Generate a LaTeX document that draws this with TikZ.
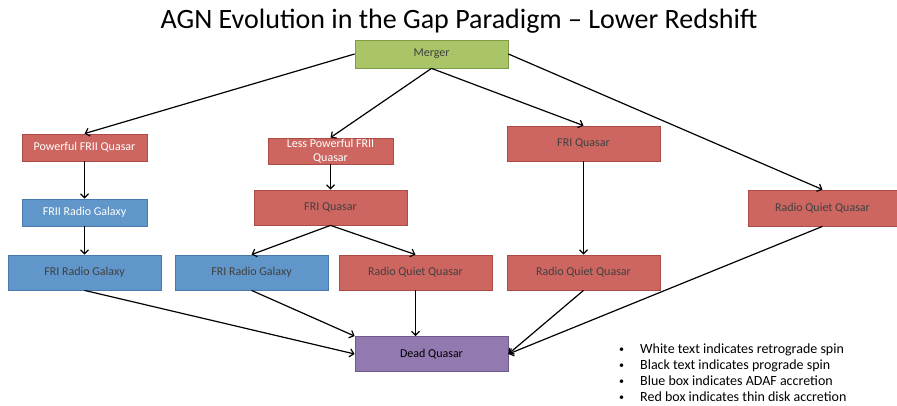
\documentclass[tikz,border=0pt]{standalone}
\usepackage{fontspec}
\setmainfont{Carlito}
\usepackage{tikz}
\usetikzlibrary{positioning, arrows.meta, calc}
\definecolor{boxRed}{RGB}{205,102,96}
\definecolor{boxRedLine}{RGB}{172,75,70}
\definecolor{boxBlue}{RGB}{96,150,201}
\definecolor{boxBlueLine}{RGB}{72,122,172}
\definecolor{boxGreen}{RGB}{170,196,104}
\definecolor{boxGreenLine}{RGB}{128,156,70}
\definecolor{boxPurple}{RGB}{146,121,176}
\definecolor{boxPurpleLine}{RGB}{112,92,140}
\newcommand{\legbullet}{\makebox[21pt][l]{\raisebox{1pt}{\fontsize{10}{10}\selectfont\textbullet}}}
\tikzset{
    stage/.style={
        draw,
        line width=0.8pt,
        inner sep=0pt,
        align=center,
        text=black!75,
        font=\fontsize{12}{13.5}\selectfont,
        minimum width=153pt,
        minimum height=35pt
    },
    small/.style={
        minimum width=125pt,
        minimum height=27pt
    },
    redbox/.style={stage, fill=boxRed, draw=boxRedLine},
    bluebox/.style={stage, fill=boxBlue, draw=boxBlueLine},
    greenbox/.style={stage, fill=boxGreen, draw=boxGreenLine},
    purplebox/.style={stage, fill=boxPurple, draw=boxPurpleLine, text=black},
    retro/.style={text=white},
    ptr/.style={
        -{Straight Barb[length=4pt, width=8pt]},
        line width=1.2pt
    }
}

\begin{document}
\begin{tikzpicture}[x=1pt, y=-1pt]
        \useasboundingbox (0,0) rectangle (897,406);
        \node[font=\fontsize{28}{30}\selectfont] (title) at (459,21) {AGN Evolution in the Gap Paradigm -- Lower Redshift};

        \node[greenbox, minimum height=28pt] (merger) at (431.5,54) {Merger};
        % first column
        \node[redbox, small, retro] (powfrii) at (84.5,147.5) {Powerful FRII Quasar};
        \node[bluebox, small, retro] (friirg) at (84.5,212.5) {FRII Radio Galaxy};
        \node[bluebox] (frirga) at (84.5,272.5) {FRI Radio Galaxy};
        % second column
        \node[redbox, small, retro, minimum height=26pt] (lessfrii) at (330.5,151) {Less Powerful FRII\\Quasar};
        \node[redbox] (friqa) at (330.5,207.5) {FRI Quasar};
        \node[bluebox] (frirgb) at (251.5,272.5) {FRI Radio Galaxy};
        \node[redbox] (rqqa) at (415.5,272.5) {Radio Quiet Quasar};
        % third column
        \node[redbox] (friqb) at (583.5,143.5) {FRI Quasar};
        \node[redbox] (rqqb) at (583.5,272.5) {Radio Quiet Quasar};
        % fourth column
        \node[redbox, minimum width=149pt, minimum height=36pt] (rqqc) at (822.5,208) {Radio Quiet Quasar};

        \node[purplebox] (dead) at (431.5,354) {Dead Quasar};

        \node[anchor=north west, align=left, inner sep=0pt, font=\fontsize{14}{16}\selectfont] (legend) at (619,344) {%
            \legbullet White text indicates retrograde spin\\
            \legbullet Black text indicates prograde spin\\
            \legbullet Blue box indicates ADAF accretion\\
            \legbullet Red box indicates thin disk accretion};

        \draw[ptr] (merger.west) -- (powfrii.north);
        \draw[ptr] (merger.south) -- (lessfrii.north);
        \draw[ptr] (merger.south) -- (friqb.north);
        \draw[ptr] (merger.east) -- (rqqc.north);
        \draw[ptr] (powfrii) -- (friirg);
        \draw[ptr] (friirg) -- (frirga);
        \draw[ptr] (lessfrii) -- (friqa);
        \draw[ptr] (friqa.south) -- (frirgb.north);
        \draw[ptr] (friqa.south) -- (rqqa.north);
        \draw[ptr] (friqb) -- (rqqb);
        \draw[ptr] (frirga.south) -- (dead.west);
        \draw[ptr] (frirgb.south) -- (dead.north west);
        \draw[ptr] (rqqa.south) -- (rqqa.south |- dead.north);
        \draw[ptr] (rqqb.south) -- (dead.east);
        \draw[ptr] (rqqc.south) -- (dead.east);
    \end{tikzpicture}
\end{document}
